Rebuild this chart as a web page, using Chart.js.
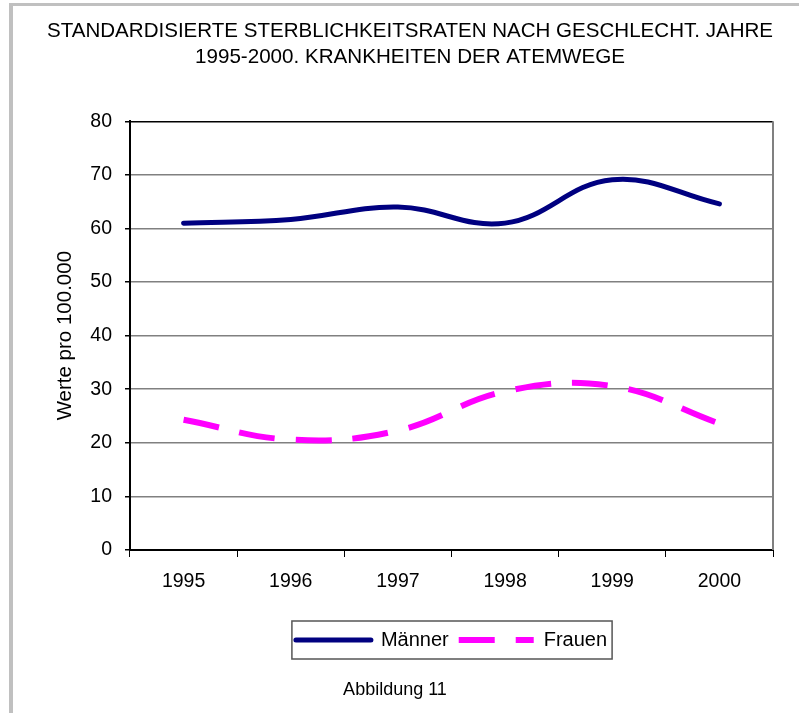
<!DOCTYPE html>
<html>
<head>
<meta charset="utf-8">
<script src="https://cdn.jsdelivr.net/npm/chart.js@4"></script>
<style>
    body { margin: 0; background: #fff; }
    #rahmen {
        position: absolute; left: 9px; top: 3px; right: 0; bottom: 0;
        border-top: 3px solid #c0c0c0; border-left: 4px solid #c0c0c0;
    }
    #box { position: absolute; left: 0; top: 0; width: 799px; height: 713px; }
</style>
</head>
<body>
<div id="rahmen"></div>
<div id="box"><canvas id="grafik"></canvas></div>
<script>
// Daten
const jahre = ['1995', '1996', '1997', '1998', '1999', '2000'];
const maenner = [61.0, 61.7, 64.0, 61.0, 69.1, 64.6];
const frauen = [24.3, 20.6, 22.3, 29.6, 30.6, 23.6];
const titelZeilen = ['STANDARDISIERTE STERBLICHKEITSRATEN NACH GESCHLECHT. JAHRE', '1995-2000. KRANKHEITEN DER ATEMWEGE'];
const achsenTitel = 'Werte pro 100.000';
const fussText = 'Abbildung 11';

const schrift = "'Liberation Sans', Arial, sans-serif";

// Rahmen um Legende, rechte Kante des Plotbereichs, Fusszeile
const extrasPlugin = {
    id: 'extras',
    afterDraw: function (chart) {
        const ctx = chart.ctx;
        const area = chart.chartArea;
        ctx.save();
        ctx.strokeStyle = '#808080';
        ctx.lineWidth = 2;
        ctx.beginPath();
        ctx.moveTo(area.right, area.top);
        ctx.lineTo(area.right, area.bottom);
        ctx.stroke();

        const lg = chart.legend;
        if (lg && lg.legendHitBoxes && lg.legendHitBoxes.length) {
            const boxes = lg.legendHitBoxes;
            const l = boxes[0].left - 4;
            const r = boxes[boxes.length - 1].left + boxes[boxes.length - 1].width + 5;
            ctx.strokeStyle = '#555';
            ctx.lineWidth = 1.5;
            ctx.strokeRect(l, lg.top + 1, r - l, lg.height - 2);
        }

        ctx.fillStyle = '#000';
        ctx.font = '18px ' + schrift;
        ctx.textAlign = 'center';
        ctx.textBaseline = 'middle';
        ctx.fillText(fussText, 395, 690);
        ctx.restore();
    }
};

new Chart(document.getElementById('grafik'), {
    type: 'line',
    data: {
        labels: jahre,
        datasets: [{
            label: 'Männer',
            data: maenner,
            borderColor: '#000080',
            backgroundColor: '#000080',
            borderWidth: 5,
            borderCapStyle: 'round',
            pointRadius: 0,
            tension: 0.4
        }, {
            label: 'Frauen',
            data: frauen,
            borderColor: '#ff00ff',
            backgroundColor: '#ff00ff',
            borderWidth: 6,
            borderDash: [36, 21],
            pointRadius: 0,
            tension: 0.4
        }]
    },
    options: {
        responsive: true,
        maintainAspectRatio: false,
        animation: false,
        layout: { padding: { left: 47, right: 26, top: 0, bottom: 53 } },
        plugins: {
            title: {
                display: true,
                text: titelZeilen,
                color: '#000',
                font: { family: schrift, size: 20.6, weight: 'normal', lineHeight: 1.27 },
                padding: { top: 18, bottom: 51 }
            },
            legend: {
                position: 'bottom',
                fullSize: false,
                labels: {
                    usePointStyle: true,
                    pointStyle: 'line',
                    pointStyleWidth: 75,
                    padding: 10,
                    color: '#000',
                    font: { family: schrift, size: 20 },
                    // Strichmuster der Linien in die Legende uebernehmen
                    generateLabels: function (chart) {
                        const items = Chart.defaults.plugins.legend.labels.generateLabels(chart);
                        items.forEach(item => {
                            const ds = chart.data.datasets[item.datasetIndex];
                            item.lineDash = ds.borderDash || [];
                            item.lineWidth = ds.borderWidth;
                            item.lineCap = ds.borderCapStyle || 'butt';
                            item.strokeStyle = ds.borderColor;
                            item.fillStyle = ds.borderColor;
                        });
                        return items;
                    }
                }
            },
            tooltip: { enabled: false }
        },
        scales: {
            x: {
                offset: true,
                grid: { offset: true, drawOnChartArea: false, drawTicks: true, tickLength: 7, color: '#000' },
                border: { color: '#000', width: 2 },
                ticks: { color: '#000', padding: 13, maxRotation: 0, font: { family: schrift, size: 19.5 } },
                afterFit: function (scale) { scale.height = 70; }
            },
            y: {
                min: 0,
                max: 80,
                ticks: { stepSize: 10, color: '#000', padding: 13, font: { family: schrift, size: 19.5 } },
                grid: {
                    color: (c) => c.tick && c.tick.value === 80 ? '#000' : '#808080',
                    tickColor: '#000',
                    tickLength: 5,
                    lineWidth: 1.5
                },
                border: { color: '#000', width: 2 },
                title: {
                    display: true,
                    text: achsenTitel,
                    color: '#000',
                    font: { family: schrift, size: 20.5 },
                    padding: { top: 6, bottom: 0 }
                },
                afterFit: function (scale) { scale.width = 83; }
            }
        }
    },
    plugins: [extrasPlugin]
});
</script>
</body>
</html>
